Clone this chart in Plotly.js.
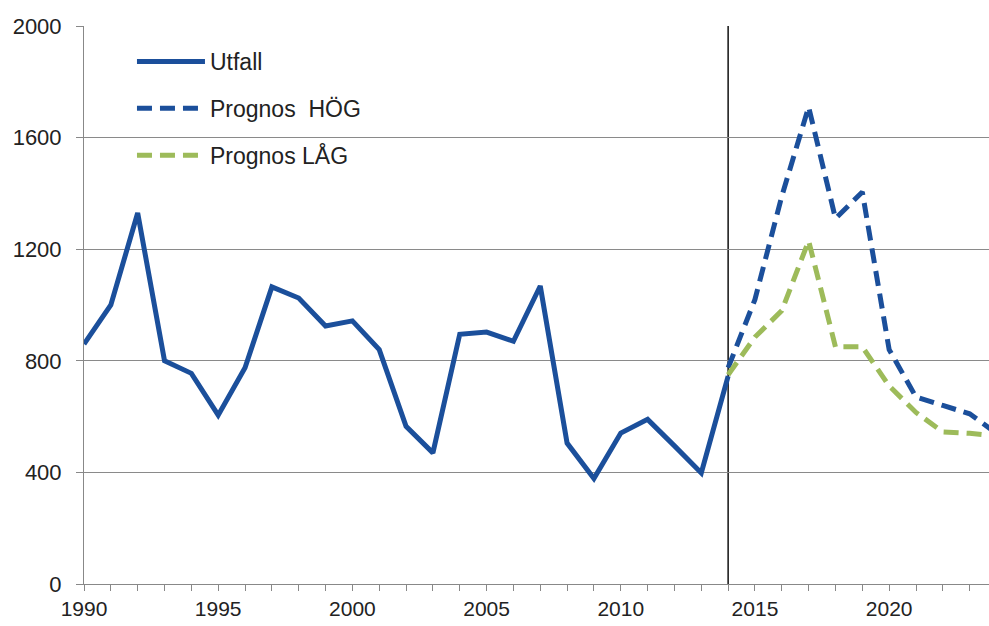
<!DOCTYPE html>
<html>
<head>
<meta charset="utf-8">
<script src="https://cdn.plot.ly/plotly-3.0.1.min.js"></script>
<style>html,body{margin:0;padding:0;background:#fff;}#chart{width:989px;height:626px;}</style>
</head>
<body>
<div id="chart"></div>
<script>
const utfallYears = [1990,1991,1992,1993,1994,1995,1996,1997,1998,1999,2000,2001,2002,2003,2004,2005,2006,2007,2008,2009,2010,2011,2012,2013,2014];
const utfall = [860,1000,1330,800,755,605,775,1065,1025,925,943,840,565,470,895,903,870,1068,505,378,541,590,495,398,745];
const prognosYears = [2014,2015,2016,2017,2018,2019,2020,2021,2022,2023,2024];
const prognosHog = [775,1020,1390,1710,1310,1405,840,670,640,610,540];
const prognosLag = [750,885,980,1230,850,850,710,615,545,540,530];
const seriesNames = ['Utfall','Prognos  HÖG','Prognos LÅG'];
const yTicks = [0,400,800,1200,1600,2000];
const xTicks = [1990,1995,2000,2005,2010,2015,2020];

const blue = '#1b4f9b';
const green = '#9dbb5a';

const traces = [
  {x: utfallYears, y: utfall, name: seriesNames[0], mode: 'lines', legendgroup: 'a',
   line: {color: blue, width: 5}},
  {x: prognosYears, y: prognosHog, name: seriesNames[1], mode: 'lines', legendgroup: 'b',
   line: {color: blue, width: 5, dash: '15px,8px'}},
  {x: prognosYears, y: prognosLag, name: seriesNames[2], mode: 'lines', legendgroup: 'c',
   line: {color: green, width: 5, dash: '15px,8px'}}
];

const layout = {
  width: 989, height: 626,
  margin: {l: 84, r: 0, t: 26, b: 42},
  paper_bgcolor: '#fff', plot_bgcolor: '#fff',
  font: {family: '"Liberation Sans", Arial, sans-serif', size: 21, color: '#222'},
  showlegend: true,
  legend: {x: 0.095, y: 0.975, xanchor: 'left', yanchor: 'top', bgcolor: 'rgba(0,0,0,0)',
           traceorder: 'grouped', tracegroupgap: 14, font: {size: 23, color: '#222'}},
  xaxis: {range: [1990, 2023.72], tickvals: xTicks, ticktext: xTicks.map(String),
          ticks: 'outside', ticklen: 6, tickcolor: '#888', showgrid: false, zeroline: false,
          showline: true, linecolor: '#888', linewidth: 1,
          minor: {dtick: 1, tick0: 1990, ticks: 'outside', ticklen: 6, tickcolor: '#888', showgrid: false},
          tickfont: {size: 21}},
  yaxis: {range: [0, 2000], tickvals: yTicks, ticktext: yTicks.map(String),
          ticks: 'outside', ticklen: 7, tickcolor: '#888', showgrid: true, gridcolor: '#8a8a8a', gridwidth: 1,
          zeroline: false, showline: true, linecolor: '#888', linewidth: 1,
          ticklabelstandoff: 10, tickfont: {size: 22}},
  shapes: [{type: 'line', xref: 'x', yref: 'paper', x0: 2014, x1: 2014, y0: 0, y1: 1,
            line: {color: '#111', width: 1.5}, layer: 'below'}]
};

function stretchLegendLines() {
  // let the legend line samples extend to the left, as in the reference legend
  document.querySelectorAll('#chart .legend [clip-path]').forEach(function (e) {
    e.removeAttribute('clip-path');
  });
  document.querySelectorAll('#chart g.legendlines path').forEach(function (p) {
    if (p.getAttribute('d') !== 'M-33,0h68') p.setAttribute('d', 'M-33,0h68');
  });
}

const gd = document.getElementById('chart');
Plotly.newPlot(gd, traces, layout, {displayModeBar: false, staticPlot: true}).then(function () {
  stretchLegendLines();
  setTimeout(stretchLegendLines, 50);
});
stretchLegendLines();
</script>
</body>
</html>
